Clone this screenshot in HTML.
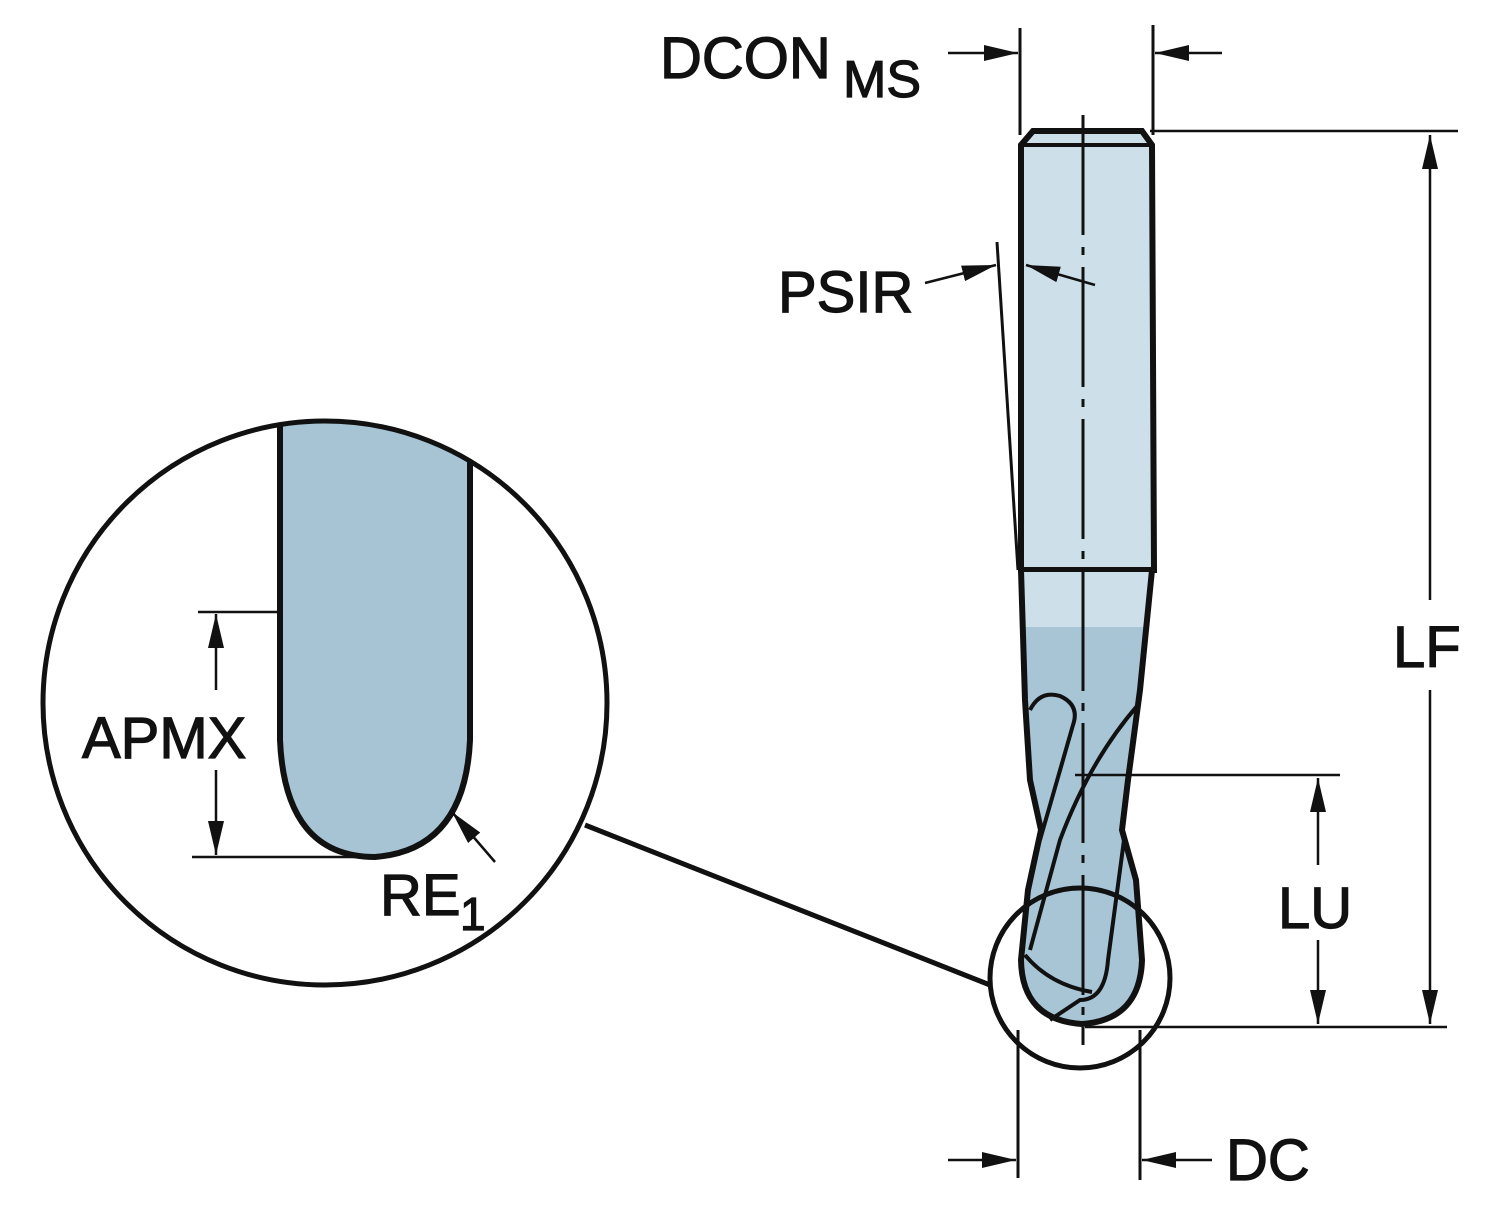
<!DOCTYPE html>
<html><head><style>html,body{margin:0;padding:0;background:#fff}svg{display:block}text{font-family:"Liberation Sans",sans-serif;fill:#111;stroke:#111;stroke-width:1.2}</style></head>
<body>
<svg width="1500" height="1213" viewBox="0 0 1500 1213" xmlns="http://www.w3.org/2000/svg">
<defs>
<marker id="b" viewBox="0 0 10 10" refX="10" refY="5" markerWidth="34" markerHeight="16" markerUnits="userSpaceOnUse" orient="auto" preserveAspectRatio="none"><path d="M0,0 L10,5 L0,10 z" fill="#111"/></marker>
<clipPath id="cc"><circle cx="325" cy="703" r="280"/></clipPath>
</defs>
<g stroke="#111" fill="none">
<!-- shank -->
<path d="M1021,145 L1033,131 L1142,131 L1152,145 L1154,570 L1021,570 Z" fill="#cde0ea" stroke-width="6"/>
<line x1="1021" y1="145" x2="1152" y2="145" stroke-width="4"/>
<!-- neck + ball -->
<path d="M1021,570 L1154,570 L1146,627 L1025,627 Z" fill="#cde0ea" stroke="none"/>
<path d="M1025,627 L1146,627 L1137,700 L1126,780 L1122,830 L1135,880 L1142,960 Q1140,1020 1082,1024 Q1022,1020 1021,960 L1024,900 L1040,830 L1030,780 L1025,700 Z" fill="#a8c5d6" stroke="none"/>
<path d="M1021,570 L1025,700 L1030,780 L1041,830 L1028,890 L1021,960 Q1022,1020 1082,1024 Q1140,1020 1142,960 L1136,880 L1122,830 L1128,780 L1140,690 L1152,570" stroke-width="6"/>
<line x1="1021" y1="570" x2="1152" y2="570" stroke-width="4"/>
<!-- flutes -->
<path d="M1030,710 Q1040,690 1060,696 Q1080,705 1073,725 L1040,840" stroke-width="4"/>
<path d="M1138,705 Q1090,760 1060,840 L1030,950" stroke-width="4"/>
<path d="M1124,840 L1108,960 Q1105,1000 1080,1000 L1050,1020" stroke-width="4"/>
<path d="M1025,955 Q1050,985 1092,992" stroke-width="4"/>
<!-- centerline -->
<line x1="1083" y1="115" x2="1083" y2="1045" stroke-width="3" stroke-dasharray="120,12,8,12"/>
<!-- small circle -->
<circle cx="1080" cy="978" r="90" stroke-width="5"/>
<line x1="585" y1="825" x2="990" y2="985" stroke-width="5"/>
<!-- big circle -->
<g clip-path="url(#cc)">
<path d="M280,400 L280,740 Q285,857 375,857 Q465,850 470,740 L470,400 Z" fill="#a7c4d5" stroke="none"/>
<path d="M280,400 L280,740 Q285,857 375,857 Q465,850 470,740 L470,400" stroke-width="6"/>
</g>
<circle cx="325" cy="703" r="282" stroke-width="5"/>
<!-- APMX -->
<line x1="198" y1="612" x2="280" y2="612" stroke-width="2.5"/>
<line x1="192" y1="857" x2="375" y2="857" stroke-width="2.5"/>
<line x1="216" y1="690" x2="216" y2="614" stroke-width="2.5" marker-end="url(#b)"/>
<line x1="216" y1="770" x2="216" y2="855" stroke-width="2.5" marker-end="url(#b)"/>
<line x1="495" y1="862" x2="452" y2="812" stroke-width="2.5" marker-end="url(#b)"/>
<!-- DCON -->
<line x1="1020" y1="28" x2="1020" y2="135" stroke-width="3"/>
<line x1="1153" y1="25" x2="1153" y2="135" stroke-width="3"/>
<line x1="948" y1="53" x2="1018" y2="53" stroke-width="2.5" marker-end="url(#b)"/>
<line x1="1222" y1="53" x2="1155" y2="53" stroke-width="2.5" marker-end="url(#b)"/>
<!-- LF -->
<line x1="1150" y1="131" x2="1458" y2="131" stroke-width="2.5"/>
<line x1="1085" y1="1027" x2="1447" y2="1027" stroke-width="2.5"/>
<line x1="1430" y1="600" x2="1430" y2="135" stroke-width="2.5" marker-end="url(#b)"/>
<line x1="1430" y1="690" x2="1430" y2="1024" stroke-width="2.5" marker-end="url(#b)"/>
<!-- LU -->
<line x1="1075" y1="775" x2="1340" y2="775" stroke-width="2.5"/>
<line x1="1318" y1="865" x2="1318" y2="778" stroke-width="2.5" marker-end="url(#b)"/>
<line x1="1318" y1="940" x2="1318" y2="1024" stroke-width="2.5" marker-end="url(#b)"/>
<!-- DC -->
<line x1="1018" y1="1030" x2="1018" y2="1178" stroke-width="3"/>
<line x1="1140" y1="1030" x2="1140" y2="1180" stroke-width="3"/>
<line x1="948" y1="1160" x2="1016" y2="1160" stroke-width="2.5" marker-end="url(#b)"/>
<line x1="1212" y1="1160" x2="1142" y2="1160" stroke-width="2.5" marker-end="url(#b)"/>
<!-- PSIR -->
<line x1="997" y1="242" x2="1018" y2="570" stroke-width="3"/>
<line x1="925" y1="283" x2="996" y2="265" stroke-width="2.5" marker-end="url(#b)"/>
<line x1="1095" y1="285" x2="1026" y2="265" stroke-width="2.5" marker-end="url(#b)"/>
</g>
<text x="660" y="78" font-size="58">DCON</text>
<text x="843" y="97" font-size="52">MS</text>
<text x="778" y="312" font-size="58">PSIR</text>
<text x="1393" y="667" font-size="58">LF</text>
<text x="1278" y="928" font-size="58">LU</text>
<text x="1226" y="1180" font-size="58">DC</text>
<text x="82" y="758" font-size="58">APMX</text>
<text x="380" y="915" font-size="58">RE</text>
<text x="460" y="930" font-size="46">1</text>
</svg>
</body></html>
